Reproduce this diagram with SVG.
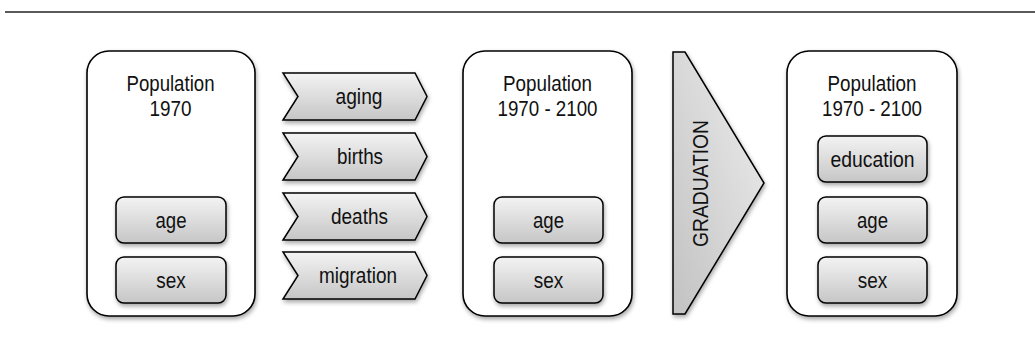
<svg xmlns="http://www.w3.org/2000/svg" width="1035" height="352" viewBox="0 0 1035 352">
<defs>
<linearGradient id="g" x1="0" y1="0" x2="0" y2="1">
<stop offset="0" stop-color="#f3f3f3"/>
<stop offset="1" stop-color="#c6c6c6"/>
</linearGradient>
<linearGradient id="ga" x1="1" y1="0" x2="0" y2="1">
<stop offset="0" stop-color="#eeeeee"/>
<stop offset="1" stop-color="#c2c2c2"/>
</linearGradient>
<filter id="sh" x="-20%" y="-20%" width="140%" height="140%">
<feDropShadow dx="1" dy="2.5" stdDeviation="2" flood-color="#000" flood-opacity="0.35"/>
</filter>
</defs>
<style>
.outer{fill:#fff;stroke:#000;stroke-width:1.6;filter:url(#sh)}
.inner{fill:url(#g);stroke:#000;stroke-width:1.5;filter:url(#sh)}
.chev{fill:url(#g);stroke:#000;stroke-width:1.5;stroke-linejoin:miter;filter:url(#sh)}
.t{font-family:"Liberation Sans",Arial,sans-serif;font-size:21.5px;fill:#111;text-anchor:middle}
</style>
<line x1="5" y1="12" x2="1035" y2="12" stroke="#222" stroke-width="1.5"/>
<g id="pop1970">
<rect class="outer" x="87" y="51" width="168" height="265" rx="22"/>
<text class="t" x="170.5" y="90.5" textLength="88" lengthAdjust="spacingAndGlyphs">Population</text>
<text class="t" x="170.5" y="115.5" textLength="42" lengthAdjust="spacingAndGlyphs">1970</text>
<rect class="inner" x="116" y="197" width="110" height="46" rx="8"/>
<text class="t" x="171" y="227.5" textLength="31" lengthAdjust="spacingAndGlyphs">age</text>
<rect class="inner" x="116" y="257" width="110" height="46" rx="8"/>
<text class="t" x="171" y="287.5" textLength="29.5" lengthAdjust="spacingAndGlyphs">sex</text>
</g>
<g id="aging">
<polygon class="chev" points="283,73 415,73 427,96.5 415,120 283,120 298,96.5"/>
<text class="t" x="359" y="103.5" textLength="47" lengthAdjust="spacingAndGlyphs">aging</text>
</g>
<g id="births">
<polygon class="chev" points="283,133 415,133 427,156.5 415,180 283,180 298,156.5"/>
<text class="t" x="360" y="163.5" textLength="46" lengthAdjust="spacingAndGlyphs">births</text>
</g>
<g id="deaths">
<polygon class="chev" points="283,193 415,193 427,216.5 415,240 283,240 298,216.5"/>
<text class="t" x="359.5" y="223.5" textLength="57" lengthAdjust="spacingAndGlyphs">deaths</text>
</g>
<g id="migration">
<polygon class="chev" points="283,252 415,252 427,275.5 415,299 283,299 298,275.5"/>
<text class="t" x="358" y="282.5" textLength="78" lengthAdjust="spacingAndGlyphs">migration</text>
</g>
<g id="pop19702100">
<rect class="outer" x="463" y="51" width="169" height="265" rx="22"/>
<text class="t" x="547.5" y="90.5" textLength="89" lengthAdjust="spacingAndGlyphs">Population</text>
<text class="t" x="547.5" y="115.5" textLength="100" lengthAdjust="spacingAndGlyphs">1970 - 2100</text>
<rect class="inner" x="494" y="197" width="109" height="46" rx="8"/>
<text class="t" x="548.5" y="227.5" textLength="31" lengthAdjust="spacingAndGlyphs">age</text>
<rect class="inner" x="494" y="257" width="109" height="46" rx="8"/>
<text class="t" x="548.5" y="287.5" textLength="29.5" lengthAdjust="spacingAndGlyphs">sex</text>
</g>
<g id="graduation">
<polygon points="673,52 685,52 764,183 685,314 673,314" fill="url(#ga)" stroke="#000" stroke-width="1.5" filter="url(#sh)"/>
<text class="t" transform="translate(708,183.5) rotate(-90)" x="0" y="0" textLength="127" lengthAdjust="spacingAndGlyphs">GRADUATION</text>
</g>
<g id="pop_edu">
<rect class="outer" x="787" y="51" width="170" height="265" rx="22"/>
<text class="t" x="872" y="90.5" textLength="89" lengthAdjust="spacingAndGlyphs">Population</text>
<text class="t" x="872" y="115.5" textLength="100" lengthAdjust="spacingAndGlyphs">1970 - 2100</text>
<rect class="inner" x="818" y="136" width="109" height="46" rx="8"/>
<text class="t" x="872.5" y="166.5" textLength="84" lengthAdjust="spacingAndGlyphs">education</text>
<rect class="inner" x="818" y="197" width="109" height="46" rx="8"/>
<text class="t" x="872.5" y="227.5" textLength="31" lengthAdjust="spacingAndGlyphs">age</text>
<rect class="inner" x="818" y="257" width="109" height="46" rx="8"/>
<text class="t" x="872.5" y="287.5" textLength="29.5" lengthAdjust="spacingAndGlyphs">sex</text>
</g>
<g id="connectors"/>
</svg>
